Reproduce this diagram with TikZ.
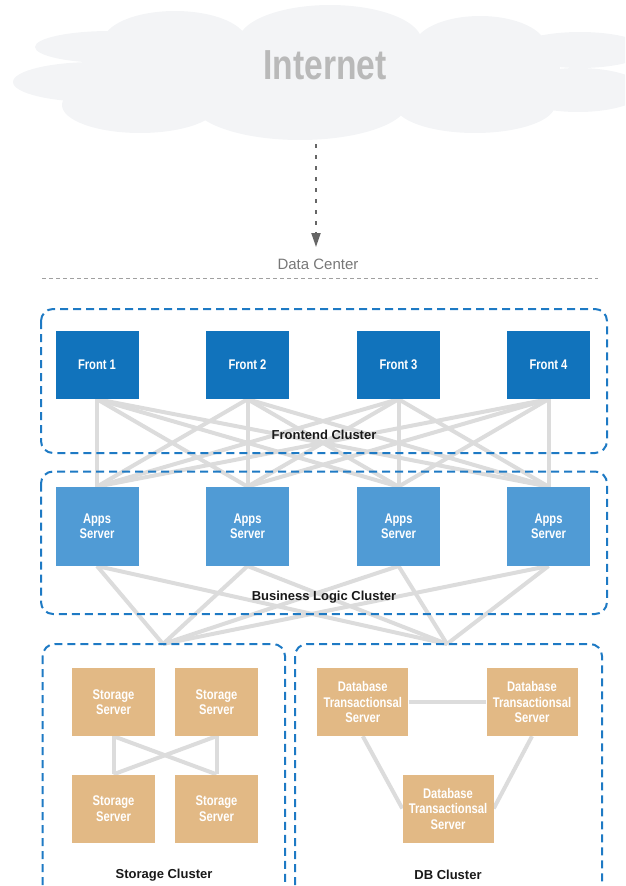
\documentclass[tikz,border=0pt]{standalone}
\usepackage{fontspec}
\setmainfont{Liberation Sans}
\newfontfamily\condfont[FakeStretch=0.8]{Liberation Sans}
\usetikzlibrary{arrows.meta}
\pgfdeclarelayer{background}
\pgfsetlayers{background,main}
\definecolor{frontblue}{RGB}{17,115,188}
\definecolor{appblue}{RGB}{80,155,213}
\definecolor{tanbox}{RGB}{226,185,133}
\definecolor{linkgray}{RGB}{220,220,220}
\definecolor{clusterblue}{RGB}{30,122,196}
\definecolor{cloudgray}{RGB}{243,244,246}
\definecolor{inettext}{RGB}{185,185,185}
\definecolor{dctext}{RGB}{119,119,119}
\definecolor{arrowgray}{RGB}{102,102,102}
\definecolor{sepgray}{RGB}{160,160,160}
\tikzset{
  srvbox/.style={rectangle, minimum width=83pt, minimum height=68pt, inner sep=0pt,
    text=white, align=center, font=\condfont\bfseries\fontsize{14}{15.5}\selectfont},
  frontbox/.style={srvbox, fill=frontblue},
  appsbox/.style={srvbox, fill=appblue, minimum height=79pt},
  storebox/.style={srvbox, fill=tanbox},
  dbbox/.style={srvbox, fill=tanbox, minimum width=91pt},
  cluster/.style={draw=clusterblue, line width=2pt, dash pattern=on 8pt off 5pt, rounded corners=12pt},
  clabel/.style={font=\bfseries\fontsize{13}{15}\selectfont, text=black!90},
  linkline/.style={draw=linkgray, line width=4pt},
  cloudpart/.style={fill=cloudgray},
}
\begin{document}
\begin{tikzpicture}[x=1pt,y=-1pt]
\useasboundingbox (0,0) rectangle (625,886);
% cloud
\begin{scope}
\clip (0,0) rectangle (625,886);
\fill[cloudpart] (110,47) ellipse [x radius=75pt, y radius=16pt];
\fill[cloudpart] (95,82) ellipse [x radius=82pt, y radius=20pt];
\fill[cloudpart] (175,42) ellipse [x radius=72pt, y radius=31pt];
\fill[cloudpart] (330,42) ellipse [x radius=92pt, y radius=37pt];
\fill[cloudpart] (480,47) ellipse [x radius=66pt, y radius=31pt];
\fill[cloudpart] (580,50) ellipse [x radius=66pt, y radius=18pt];
\fill[cloudpart] (578,90) ellipse [x radius=66pt, y radius=22pt];
\fill[cloudpart] (475,105) ellipse [x radius=80pt, y radius=28pt];
\fill[cloudpart] (300,102) ellipse [x radius=108pt, y radius=38pt];
\fill[cloudpart] (140,105) ellipse [x radius=78pt, y radius=28pt];
\fill[cloudpart] (100,45) rectangle (560,110);
\end{scope}
\node[font=\condfont\bfseries\fontsize{42}{42}\selectfont, text=inettext] (inet) at (325,65) {Internet};
% arrow to data center
\coordinate (cloudbot) at (316,144);
\coordinate (arrtip) at (316,247);
\draw[draw=arrowgray, line width=2pt, dash pattern=on 3.5pt off 7.5pt,
  -{Triangle[width=9pt,length=14pt,fill=arrowgray]}] (cloudbot) -- (arrtip);
\node[font=\fontsize{15}{18}\selectfont, text=dctext] (dc) at (318,264) {Data Center};
\coordinate (sepL) at (42,278);
\coordinate (sepR) at (598,278);
\draw[sepgray, line width=1pt, dash pattern=on 4pt off 3pt] (sepL) -- (sepR);

% nodes
\node[frontbox] (f1) at (97,365) {Front 1};
\node[frontbox] (f2) at (247.5,365) {Front 2};
\node[frontbox] (f3) at (398.5,365) {Front 3};
\node[frontbox] (f4) at (548.5,365) {Front 4};
\node[appsbox] (a1) at (97,526.3) {Apps\\Server};
\node[appsbox] (a2) at (247.5,526.3) {Apps\\Server};
\node[appsbox] (a3) at (398.5,526.3) {Apps\\Server};
\node[appsbox] (a4) at (548.5,526.3) {Apps\\Server};
\node[storebox] (s1) at (113.5,702) {Storage\\Server};
\node[storebox] (s2) at (216.5,702) {Storage\\Server};
\node[storebox] (s3) at (113.5,808.5) {Storage\\Server};
\node[storebox] (s4) at (216.5,808.5) {Storage\\Server};
\node[dbbox] (d1) at (362.8,702) {Database\\Transactionsal\\Server};
\node[dbbox] (d2) at (532,702) {Database\\Transactionsal\\Server};
\node[dbbox] (d3) at (448,808.5) {Database\\Transactionsal\\Server};
\coordinate (cs) at (163,644);
\coordinate (cd) at (447,644);

% links (behind boxes)
\begin{pgfonlayer}{background}
\foreach \i in {1,...,4}{
  \foreach \j in {1,...,4}{
    \path[linkline] (f\i.south) -- (a\j.north);
  }
  \path[linkline] (a\i.south) -- (cs);
  \path[linkline] (a\i.south) -- (cd);
}
\path[linkline] (s1.south) -- (s3.north);
\path[linkline] (s2.south) -- (s4.north);
\path[linkline] (s1.south) -- (s4.north);
\path[linkline] (s2.south) -- (s3.north);
\path[linkline] (d1.east) -- (d2.west);
\path[linkline] (d1.south) -- (d3.west);
\path[linkline] (d2.south) -- (d3.east);
\end{pgfonlayer}

% clusters
\draw[cluster] (41,309) rectangle (607,453);
\draw[cluster] (41,471.5) rectangle (607,614);
\draw[cluster] (42.7,644) rectangle (285,900);
\draw[cluster] (295,644) rectangle (602,900);
\node[clabel] (lf) at (324,435) {Frontend Cluster};
\node[clabel] (lb) at (324,597) {Business Logic Cluster};
\node[clabel] (ls) at (164,875) {Storage Cluster};
\node[clabel] (ld) at (448,875) {DB Cluster};
\end{tikzpicture}
\end{document}
